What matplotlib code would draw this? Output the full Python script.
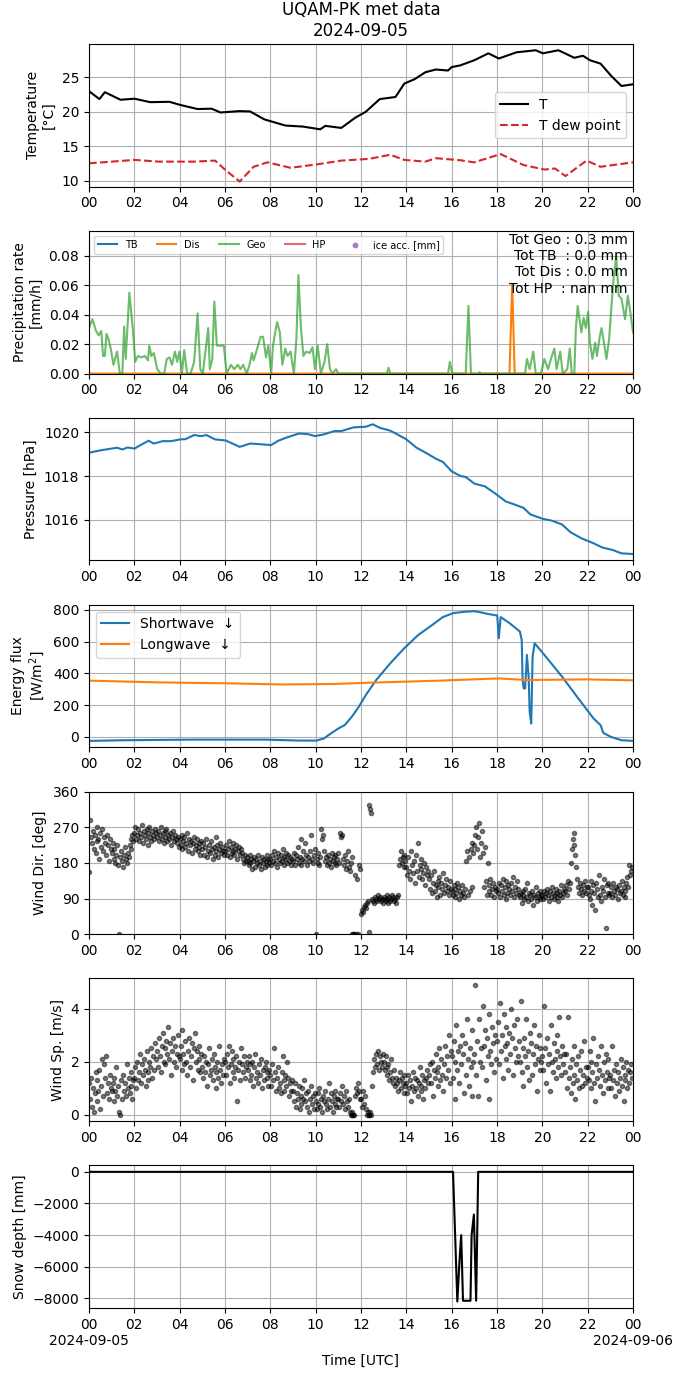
import numpy as np
import pandas as pd
import matplotlib
matplotlib.use("Agg")
import matplotlib.pyplot as plt
import matplotlib.dates as mdates
from matplotlib.ticker import FuncFormatter

day = pd.Timestamp("2024-09-05")

# ---------------------------
# data (hours since 00 UTC)
# ---------------------------
t_hours = [0.00, 0.46, 0.70, 1.39, 2.01, 2.70, 3.55, 4.02, 4.79, 5.41, 5.80, 6.65, 7.11, 7.73,
           8.66, 9.43, 10.20, 10.43, 11.13, 11.75, 12.21, 12.83, 13.52, 13.91, 14.37, 14.84,
           15.30, 15.84, 16.00, 16.38, 17.00, 17.62, 18.08, 18.86, 19.71, 20.02, 20.71, 21.41,
           21.79, 22.10, 22.57, 23.03, 23.49, 24.00]
temp = [23.0, 21.85, 22.85, 21.75, 21.9, 21.4, 21.45, 21.0, 20.4, 20.45, 19.9, 20.1, 20.05, 18.9,
        18.0, 17.85, 17.45, 17.95, 17.65, 19.15, 20.0, 21.85, 22.15, 24.1, 24.75, 25.75,
        26.15, 26.0, 26.5, 26.75, 27.5, 28.5, 27.75, 28.65, 28.95, 28.5, 28.95, 27.85,
        28.15, 27.5, 27.0, 25.25, 23.75, 24.0]

td_hours = [0.00, 2.01, 3.09, 4.64, 5.56, 6.03, 6.65, 7.26, 7.88, 8.89, 10.05, 11.13, 12.36, 13.29,
            13.91, 14.84, 15.30, 16.38, 17.00, 18.16, 19.17, 20.09, 20.56, 21.02, 21.95, 22.57, 24.00]
tdew = [12.5, 13.0, 12.75, 12.75, 12.9, 11.5, 9.85, 12.0, 12.65, 11.85, 12.35, 12.9, 13.15, 13.75,
        13.0, 12.75, 13.25, 12.95, 12.65, 13.85, 12.25, 11.6, 11.75, 10.65, 12.9, 12.0, 12.65]

geo_hours = [0.00, 0.15, 0.31, 0.43, 0.54, 0.62, 0.70, 0.77, 0.85, 0.96, 1.08, 1.24, 1.36, 1.47,
             1.55, 1.62, 1.78, 1.93, 2.04, 2.16, 2.29, 2.47, 2.60, 2.66, 2.75, 2.86, 3.01, 3.17,
             3.32, 3.43, 3.55, 3.66, 3.79, 3.89, 3.99, 4.10, 4.20, 4.33, 4.48, 4.64, 4.79, 4.91,
             5.02, 5.26, 5.33, 5.44, 5.53, 5.64, 5.80, 5.95, 6.07, 6.26, 6.41, 6.57, 6.68, 6.80,
             6.96, 7.08, 7.19, 7.26, 7.42, 7.57, 7.68, 7.81, 7.91, 8.04, 8.11, 8.19, 8.30, 8.42,
             8.53, 8.66, 8.76, 8.89, 9.04, 9.15, 9.24, 9.35, 9.46, 9.58, 9.74, 9.86, 9.97, 10.09,
             10.23, 10.39, 10.51, 10.63, 10.74, 10.90, 11.00, 13.14, 13.21, 13.29, 15.84, 15.92,
             16.03, 16.62, 16.74, 16.85, 17.19, 17.23, 17.28, 19.24, 19.32, 19.44, 19.60, 19.71,
             19.94, 20.09, 20.25, 20.40, 20.53, 20.63, 20.79, 20.90, 21.10, 21.21, 21.30, 21.41,
             21.48, 21.56, 21.72, 21.82, 21.92, 22.02, 22.10, 22.21, 22.33, 22.41, 22.52, 22.61,
             22.72, 22.83, 22.95, 23.03, 23.14, 23.26, 23.37, 23.49, 23.65, 23.77, 23.88, 24.00]
geo = [0.031, 0.037, 0.029, 0.026, 0.029, 0.012, 0.012, 0.027, 0.024, 0.017, 0.006, 0.015, 0.0, 0.0,
       0.032, 0.010, 0.055, 0.031, 0.008, 0.012, 0.011, 0.012, 0.009, 0.019, 0.012, 0.014, 0.003, 0.0,
       0.0, 0.010, 0.011, 0.006, 0.015, 0.008, 0.015, 0.0, 0.016, 0.0, 0.0, 0.008, 0.041, 0.003,
       0.0, 0.031, 0.003, 0.010, 0.049, 0.019, 0.019, 0.019, 0.0, 0.006, 0.003, 0.006, 0.003, 0.006,
       0.0, 0.006, 0.014, 0.009, 0.017, 0.025, 0.025, 0.011, 0.019, 0.0, 0.018, 0.026, 0.035, 0.028,
       0.006, 0.017, 0.012, 0.015, 0.0, 0.024, 0.067, 0.031, 0.012, 0.015, 0.014, 0.018, 0.003, 0.019,
       0.0, 0.008, 0.020, 0.003, 0.0, 0.003, 0.0, 0.0, 0.004, 0.0, 0.0, 0.008,
       0.0, 0.0, 0.046, 0.0, 0.0, 0.001, 0.0, 0.0, 0.010, 0.003, 0.015, 0.0,
       0.0, 0.010, 0.003, 0.011, 0.017, 0.003, 0.015, 0.0, 0.003, 0.017, 0.0, 0.0,
       0.031, 0.046, 0.028, 0.038, 0.031, 0.042, 0.021, 0.010, 0.021, 0.012, 0.024, 0.031,
       0.021, 0.010, 0.024, 0.042, 0.064, 0.080, 0.053, 0.051, 0.037, 0.053, 0.042, 0.028]

dis_hours = [0.00, 18.55, 18.67, 18.78, 24.00]
dis = [0.0, 0.0, 0.061, 0.0, 0.0]
tb_hours = [0.00, 24.00]
tb = [0.0, 0.0]
hp_hours = [0.00, 24.00]
hp = [np.nan, np.nan]

p_hours = [0.00, 0.46, 0.93, 1.24, 1.47, 1.70, 2.01, 2.32, 2.63, 2.86, 3.25, 3.63, 4.02, 4.25,
           4.64, 4.95, 5.18, 5.56, 6.03, 6.65, 7.11, 7.57, 8.04, 8.35, 8.73, 9.27, 9.66, 9.97,
           10.36, 10.82, 11.13, 11.67, 12.21, 12.52, 12.83, 13.29, 13.60, 13.99, 14.45, 14.84,
           15.30, 15.61, 16.00, 16.38, 16.62, 17.00, 17.47, 17.93, 18.39, 18.78, 19.17, 19.47,
           20.02, 20.40, 20.87, 21.25, 21.72, 22.26, 22.64, 23.11, 23.49, 24.00]
pres = [1019.07, 1019.17, 1019.25, 1019.30, 1019.22, 1019.31, 1019.26, 1019.45, 1019.62, 1019.49,
        1019.60, 1019.60, 1019.68, 1019.69, 1019.88, 1019.83, 1019.88, 1019.68, 1019.63, 1019.34,
        1019.49, 1019.46, 1019.42, 1019.62, 1019.77, 1019.95, 1019.92, 1019.83, 1019.91, 1020.06,
        1020.06, 1020.23, 1020.26, 1020.37, 1020.21, 1020.08, 1019.91, 1019.69, 1019.30, 1019.08,
        1018.80, 1018.65, 1018.22, 1018.01, 1017.96, 1017.66, 1017.53, 1017.20, 1016.84, 1016.70,
        1016.55, 1016.25, 1016.05, 1015.97, 1015.79, 1015.43, 1015.16, 1014.93, 1014.74, 1014.62,
        1014.47, 1014.44]

sw_hours = [0.00, 1.55, 4.64, 7.73, 9.27, 10.05, 10.36, 10.66, 11.05, 11.28, 11.59, 11.90, 12.21,
            12.67, 13.29, 13.91, 14.53, 15.15, 15.61, 16.07, 16.54, 17.00, 17.31, 17.62, 18.01,
            18.08, 18.16, 18.55, 19.01, 19.09, 19.13, 19.18, 19.24, 19.32, 19.40, 19.44, 19.51,
            19.57, 19.66, 20.09, 20.87, 21.64, 22.26, 22.57, 22.69, 23.03, 23.49, 24.00]
sw = [-25, -21, -17, -17, -23, -23, -10, 21, 57, 74, 126, 189, 263,
      358, 463, 558, 642, 705, 754, 779, 787, 791, 783, 773, 764,
      621, 754, 716, 663, 610, 358, 305, 305, 516, 368, 158, 84,
      505, 589, 516, 379, 232, 116, 74, 25, 0, -21, -25]

lw_hours = [0.00, 3.09, 6.18, 8.50, 10.82, 12.36, 15.46, 18.08, 19.32, 21.95, 24.00]
lw = [354, 343, 337, 330, 333, 341, 354, 368, 358, 362, 356]

# wind, one row per hour, 2.5-min samples
wind_dir = [
    [158, 289, 245, 230, 260, 215, 250, 205, 270, 235, 240, 190, 255, 220, 265, 210, 245, 230, 200, 250, 225, 185, 240, 215],
    [205, 230, 190, 215, 180, 200, 225, 175, 0, 195, 210, 185, 170, 200, 220, 190, 180, 205, 195, 225, 240, 215, 250, 235],
    [255, 270, 240, 250, 265, 235, 255, 245, 275, 230, 260, 250, 240, 265, 225, 255, 270, 245, 235, 260, 250, 240, 265, 255],
    [245, 260, 235, 250, 270, 240, 255, 230, 260, 245, 265, 235, 250, 240, 255, 225, 245, 260, 235, 250, 240, 230, 245, 220],
    [240, 225, 250, 215, 235, 245, 220, 230, 255, 210, 240, 225, 235, 205, 230, 245, 215, 225, 240, 210, 230, 220, 200, 235],
    [215, 230, 200, 220, 240, 195, 210, 225, 205, 235, 215, 190, 220, 200, 245, 210, 225, 195, 215, 230, 205, 220, 210, 200],
    [210, 225, 200, 215, 235, 195, 220, 205, 230, 210, 200, 215, 225, 190, 210, 220, 200, 215, 205, 190, 180, 200, 185, 195],
    [185, 175, 200, 180, 190, 165, 185, 195, 170, 190, 180, 200, 175, 185, 165, 195, 180, 190, 170, 185, 200, 175, 190, 180],
    [190, 175, 200, 185, 210, 180, 195, 170, 205, 190, 180, 200, 185, 215, 175, 195, 190, 205, 180, 200, 185, 195, 175, 190],
    [185, 205, 175, 200, 190, 220, 180, 195, 240, 175, 190, 210, 185, 230, 200, 175, 195, 185, 210, 250, 190, 180, 200, 215],
    [0, 190, 180, 205, 175, 195, 265, 240, 250, 210, 185, 195, 175, 200, 180, 190, 170, 205, 185, 195, 180, 200, 175, 190],
    [205, 180, 255, 245, 250, 190, 175, 200, 165, 185, 210, 170, 160, 180, 0, 195, 0, 0, 150, 0, 140, 0, 175, 165],
    [50, 60, 55, 70, 75, 65, 80, 85, 5, 325, 315, 305, 90, 85, 80, 95, 90, 85, 100, 90, 95, 85, 90, 80],
    [95, 90, 85, 100, 90, 80, 95, 85, 90, 100, 95, 85, 90, 80, 95, 100, 175, 190, 210, 180, 195, 170, 200, 185],
    [170, 150, 195, 160, 140, 210, 175, 155, 185, 130, 200, 160, 230, 145, 175, 165, 190, 140, 155, 180, 125, 170, 150, 160],
    [140, 115, 150, 105, 130, 160, 110, 125, 95, 135, 120, 145, 100, 130, 115, 155, 105, 125, 140, 110, 120, 100, 135, 115],
    [110, 100, 125, 95, 115, 105, 130, 120, 90, 110, 100, 125, 105, 95, 115, 185, 210, 100, 195, 110, 215, 120, 230, 205],
    [225, 250, 270, 215, 245, 280, 195, 230, 260, 205, 120, 220, 135, 100, 180, 125, 110, 140, 100, 115, 130, 95, 120, 110],
    [115, 105, 130, 95, 125, 110, 140, 100, 120, 90, 135, 105, 125, 115, 100, 130, 110, 145, 95, 120, 105, 135, 115, 100],
    [95, 105, 80, 110, 100, 90, 115, 95, 130, 85, 105, 100, 90, 110, 75, 100, 95, 120, 85, 105, 95, 110, 90, 100],
    [100, 90, 110, 95, 105, 115, 100, 85, 110, 95, 120, 105, 90, 100, 115, 95, 105, 85, 110, 100, 125, 95, 105, 115],
    [110, 125, 100, 135, 115, 130, 180, 215, 240, 255, 225, 200, 170, 140, 120, 105, 130, 115, 100, 125, 110, 135, 105, 120],
    [120, 100, 90, 135, 110, 75, 125, 105, 60, 130, 115, 95, 150, 100, 85, 120, 110, 140, 95, 15, 125, 105, 130, 100],
    [105, 120, 95, 130, 110, 100, 120, 115, 90, 125, 105, 110, 135, 100, 120, 110, 95, 130, 145, 120, 175, 150, 160, 170],
]
wind_sp = [
    [1.2, 0.6, 1.4, 0.3, 1.0, 0.1, 0.8, 1.6, 0.5, 1.3, 0.9, 1.7, 0.2, 1.1, 2.1, 0.7, 1.9, 1.4, 2.2, 0.8, 1.2, 0.6, 1.5, 1.0],
    [0.9, 1.2, 0.5, 1.4, 0.9, 1.8, 0.7, 1.1, 0.1, 0.0, 1.3, 0.6, 1.5, 0.9, 1.2, 0.7, 1.9, 1.0, 1.4, 0.8, 1.6, 1.1, 0.6, 1.3],
    [1.4, 1.8, 1.0, 2.0, 1.3, 1.6, 2.3, 1.2, 1.9, 1.5, 2.1, 1.7, 1.1, 2.4, 1.6, 1.3, 2.0, 1.8, 2.5, 1.4, 2.2, 1.7, 2.7, 2.1],
    [2.4, 1.8, 2.9, 2.2, 1.6, 2.6, 3.1, 2.0, 2.5, 1.9, 2.8, 2.3, 3.3, 2.1, 2.7, 1.5, 2.4, 2.9, 2.0, 2.6, 1.8, 2.3, 3.0, 2.2],
    [2.1, 2.6, 1.7, 3.2, 2.3, 1.9, 2.8, 2.0, 1.5, 2.4, 2.9, 1.8, 2.2, 2.7, 1.3, 2.5, 3.1, 2.0, 2.4, 1.7, 2.6, 2.1, 1.6, 2.3],
    [1.8, 1.4, 2.2, 1.6, 2.0, 1.1, 1.9, 2.5, 1.5, 1.7, 2.1, 1.3, 2.3, 1.8, 1.0, 1.6, 2.0, 1.4, 2.6, 1.7, 1.2, 1.9, 1.5, 2.1],
    [2.0, 1.5, 2.3, 1.8, 2.6, 1.2, 1.9, 2.4, 1.6, 2.1, 1.4, 1.8, 2.2, 0.5, 1.7, 2.0, 1.3, 2.5, 1.9, 1.6, 2.2, 1.4, 1.8, 2.0],
    [1.7, 2.2, 1.3, 1.9, 1.5, 2.0, 1.1, 1.8, 2.3, 1.4, 1.6, 1.2, 1.9, 1.5, 2.1, 1.0, 1.7, 1.3, 1.8, 2.0, 1.4, 1.6, 1.1, 1.7],
    [1.5, 1.1, 1.9, 1.3, 2.5, 1.6, 0.9, 1.4, 1.8, 1.0, 1.2, 0.8, 1.6, 2.2, 1.3, 0.9, 1.5, 1.1, 2.0, 1.4, 0.7, 1.2, 0.9, 1.3],
    [0.9, 0.5, 1.2, 0.3, 0.8, 0.6, 1.1, 0.2, 0.7, 0.4, 1.0, 0.6, 1.3, 0.5, 0.8, 0.3, 0.9, 0.1, 0.6, 1.1, 0.4, 0.7, 0.2, 0.8],
    [0.5, 0.2, 0.8, 0.4, 1.0, 0.3, 0.6, 0.1, 0.7, 0.5, 0.9, 0.4, 0.2, 0.6, 1.2, 0.3, 0.8, 0.5, 0.1, 0.7, 0.4, 0.9, 0.3, 0.6],
    [0.6, 0.3, 0.8, 0.5, 1.1, 0.4, 0.7, 0.2, 0.9, 0.5, 0.3, 0.6, 0.1, 0.0, 0.0, 0.1, 0.0, 0.0, 0.7, 1.0, 0.8, 1.2, 0.9, 0.6],
    [0.6, 0.3, 0.9, 0.4, 0.7, 0.2, 0.0, 0.1, 0.0, 0.0, 0.1, 0.0, 1.1, 1.6, 2.1, 1.8, 2.3, 1.9, 2.4, 1.7, 2.2, 2.0, 1.8, 2.3],
    [2.0, 1.7, 2.2, 1.8, 1.5, 1.9, 1.3, 1.6, 2.1, 1.4, 1.2, 1.7, 1.1, 1.4, 1.2, 0.9, 1.3, 1.6, 1.0, 1.4, 1.2, 0.8, 1.5, 1.1],
    [1.2, 0.8, 1.5, 1.0, 1.3, 0.5, 1.1, 1.6, 0.9, 1.4, 1.0, 1.3, 0.7, 1.2, 1.8, 0.9, 1.1, 1.5, 0.6, 1.3, 1.0, 1.4, 1.7, 1.2],
    [1.5, 1.9, 1.2, 2.0, 0.7, 1.7, 1.4, 2.3, 1.6, 1.1, 1.8, 2.5, 1.3, 2.1, 1.5, 0.9, 1.9, 2.6, 1.4, 2.2, 1.7, 3.0, 1.2, 2.4],
    [2.2, 1.4, 2.8, 0.6, 2.0, 3.4, 1.7, 2.4, 1.2, 2.6, 1.9, 3.0, 2.3, 0.8, 2.7, 1.5, 3.6, 2.1, 1.1, 2.5, 1.8, 3.2, 0.7, 2.0],
    [2.3, 4.9, 1.5, 2.8, 0.7, 3.6, 2.0, 2.5, 1.8, 4.1, 2.6, 3.2, 1.3, 2.9, 2.2, 3.8, 0.6, 2.4, 1.9, 3.3, 2.7, 1.6, 3.0, 2.1],
    [2.8, 3.5, 1.9, 4.2, 2.4, 3.0, 1.4, 3.8, 2.6, 2.1, 3.3, 2.7, 1.7, 3.1, 2.3, 4.0, 2.9, 1.5, 3.4, 2.5, 2.0, 3.6, 2.2, 2.8],
    [2.0, 4.3, 1.6, 2.5, 1.1, 2.9, 2.2, 3.6, 1.8, 2.4, 1.3, 3.1, 2.7, 1.5, 2.3, 3.4, 1.9, 2.6, 0.9, 2.1, 3.0, 1.7, 2.5, 2.0],
    [2.2, 1.7, 4.1, 2.5, 1.2, 2.9, 1.9, 2.3, 0.9, 3.4, 2.0, 1.6, 2.7, 2.1, 1.4, 3.0, 2.4, 1.8, 3.7, 2.2, 1.5, 2.6, 1.9, 2.3],
    [1.6, 2.3, 1.0, 3.7, 1.4, 1.8, 0.8, 2.1, 1.2, 1.5, 2.6, 0.6, 1.9, 1.3, 2.2, 1.0, 1.7, 2.4, 1.1, 1.5, 2.8, 1.2, 1.8, 1.4],
    [1.8, 1.3, 2.4, 1.0, 2.0, 1.6, 2.9, 1.2, 0.5, 1.9, 1.4, 2.2, 1.7, 1.1, 2.6, 1.5, 0.8, 2.0, 1.3, 2.3, 1.6, 1.0, 2.1, 1.4],
    [1.5, 1.0, 2.6, 1.3, 1.7, 0.7, 1.9, 1.2, 1.6, 0.9, 1.4, 2.1, 1.1, 1.8, 0.5, 1.5, 1.3, 2.0, 1.0, 1.7, 1.2, 1.6, 1.9, 1.4],
]

snow_hours = [0.00, 16.06, 16.25, 16.35, 16.42, 16.50, 16.83, 16.88, 16.98, 17.08, 17.17, 24.00]
snow = [0, 0, -8200, -5500, -4000, -8150, -8150, -4000, -2700, -8150, 0, 0]

tot_text = "Tot Geo : 0.3 mm\nTot TB  : 0.0 mm\nTot Dis : 0.0 mm\nTot HP  : nan mm"


def to_time(hours):
    return day + pd.to_timedelta(np.asarray(hours, dtype=float), unit="h")


wind_time = pd.date_range(day, periods=24 * 24, freq="150s")

fig, axes = plt.subplots(7, 1, figsize=(6.83, 13.77), dpi=100)
fig.subplots_adjust(left=0.1303, right=0.9268, top=0.968, bottom=0.0501, hspace=0.31)

# temperature
ax = axes[0]
ax.plot(to_time(t_hours), temp, color="k", label="T")
ax.plot(to_time(td_hours), tdew, color="tab:red", ls="--", label="T dew point")
ax.set_ylim(9.1, 29.85)
ax.set_ylabel("Temperature\n[°C]")
ax.set_title("UQAM-PK met data\n2024-09-05", fontsize=12)
ax.legend(loc="center right")

# precipitation
ax = axes[1]
ax.plot(to_time(tb_hours), tb, color="tab:blue", label="TB")
ax.plot(to_time(dis_hours), dis, color="tab:orange", label="Dis")
ax.plot(to_time(geo_hours), geo, color="tab:green", alpha=0.7, label="Geo")
ax.plot(to_time(hp_hours), hp, color="tab:red", alpha=0.7, label="HP")
ax.scatter([], [], color="tab:purple", s=10, alpha=0.8, label="ice acc. [mm]")
ax.set_ylim(0, 0.097)
ax.set_ylabel("Precipitation rate\n[mm/h]")
ax.legend(loc="upper left", ncol=5, fontsize=7)
ax.text(0.99, 0.985, tot_text, transform=ax.transAxes, ha="right", va="top")

# pressure
ax = axes[2]
ax.plot(to_time(p_hours), pres, color="tab:blue")
ax.set_ylabel("Pressure [hPa]")

# radiation
ax = axes[3]
ax.plot(to_time(sw_hours), sw, color="tab:blue", label="Shortwave  ↓")
ax.plot(to_time(lw_hours), lw, color="tab:orange", label="Longwave  ↓")
ax.set_ylabel("Energy flux\n[W/m$^2$]")
ax.legend(loc="upper left")

# wind direction
ax = axes[4]
ax.plot(wind_time, np.ravel(wind_dir), ".", color="k", alpha=0.5)
ax.set_ylim(0, 360)
ax.set_yticks([0, 90, 180, 270, 360])
ax.set_ylabel("Wind Dir. [deg]")

# wind speed
ax = axes[5]
ax.plot(wind_time, np.ravel(wind_sp), ".", color="k", alpha=0.5)
ax.set_ylabel("Wind Sp. [m/s]")

# snow depth
ax = axes[6]
ax.plot(to_time(snow_hours), snow, color="k")
ax.set_ylabel("Snow depth [mm]")
ax.set_xlabel("Time [UTC]")


def hour_fmt(x, pos):
    return mdates.num2date(x).strftime("%H")


def hour_date_fmt(x, pos):
    d = mdates.num2date(x)
    if d.hour == 0:
        return d.strftime("%H\n%Y-%m-%d")
    return d.strftime("%H")


for i, ax in enumerate(axes):
    ax.set_xlim(day, day + pd.Timedelta(hours=24))
    ax.xaxis.set_major_locator(mdates.HourLocator(byhour=range(0, 24, 2)))
    if i == len(axes) - 1:
        ax.xaxis.set_major_formatter(FuncFormatter(hour_date_fmt))
    else:
        ax.xaxis.set_major_formatter(FuncFormatter(hour_fmt))
    ax.grid()

plt.savefig("out.png")
